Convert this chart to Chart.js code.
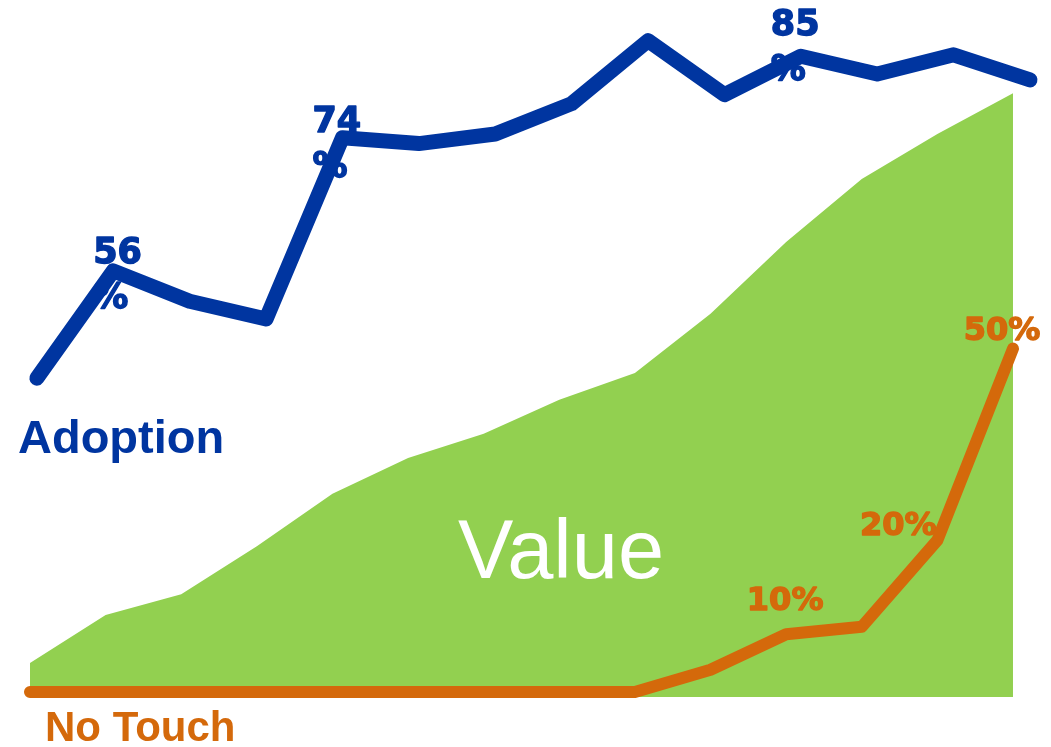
<!DOCTYPE html>
<html>
<head>
<meta charset="utf-8">
<script src="https://cdn.jsdelivr.net/npm/chart.js@4.4.1/dist/chart.umd.min.js"></script>
<style>
  html, body { margin: 0; padding: 0; background: #ffffff; }
  #wrap { position: relative; width: 1051px; height: 747px; }
</style>
</head>
<body>
<div id="wrap"><canvas id="c"></canvas></div>
<script>
// ---- data ----
const adoption = [42.4, 56.9, 52.8, 50.4, 74.9, 74.1, 75.4, 79.5, 88.0, 80.7, 85.9, 83.5, 86.1, 82.7];
const value    = [3.9, 10.4, 13.2, 19.7, 26.8, 31.6, 34.9, 39.5, 43.1, 51.1, 60.8, 69.3, 75.4, 80.9];
const noTouch  = [0, 0, 0, 0, 0, 0, 0, 0, 0, 3.0, 7.8, 8.8, 20.5, 46.4];

const adoptionLabelIdx  = [1, 4, 10];
const adoptionLabelText = ['56', '74', '85'];
const noTouchLabelIdx   = [10, 12, 13];
const noTouchLabelText  = ['10%', '20%', '50%'];

const seriesNames = ['Adoption', 'No Touch', 'Value'];

// ---- styling ----
const BLUE = '#0035A0';
const GREEN = '#92D050';
const ORANGE = '#D4690B';

const toXY = arr => arr.map((v, i) => ({ x: i, y: v }));

function heavyText(ctx, txt, x, y, color) {
  ctx.fillStyle = color;
  ctx.strokeStyle = color;
  ctx.lineWidth = 1.4;
  ctx.lineJoin = 'round';
  ctx.strokeText(txt, x, y);
  ctx.fillText(txt, x, y);
}

const annot = {
  id: 'annot',
  afterDatasetDraw(chart, args) {
    if (args.index !== 2) return;
    const ctx = chart.ctx;
    const xs = chart.scales.x, xb = chart.scales.x2, ys = chart.scales.y;
    ctx.save();
    ctx.textBaseline = 'alphabetic';

    // Adoption callouts (number above, % below)
    const blueOff = [[-20, -8], [-30, -6], [-30, -21]];
    ctx.font = 'bold 35px "DejaVu Sans"';
    ctx.textAlign = 'left';
    adoptionLabelIdx.forEach((idx, k) => {
      const px = xb.getPixelForValue(idx);
      const py = ys.getPixelForValue(adoption[idx]);
      const [dx, dy] = blueOff[k];
      heavyText(ctx, adoptionLabelText[k], px + dx, py + dy, BLUE);
      heavyText(ctx, '%', px + dx, py + dy + 45, BLUE);
    });

    // No Touch callouts
    const orOff = [[-1, -24], [-39, -5], [-11, -9]];
    ctx.font = 'bold 32px "DejaVu Sans"';
    ctx.textAlign = 'center';
    noTouchLabelIdx.forEach((idx, k) => {
      const px = xs.getPixelForValue(idx);
      const py = ys.getPixelForValue(noTouch[idx]);
      const [dx, dy] = orOff[k];
      heavyText(ctx, noTouchLabelText[k], px + dx, py + dy, ORANGE);
    });

    // Series names
    ctx.textAlign = 'left';
    ctx.fillStyle = BLUE;
    ctx.font = 'bold 47px "Liberation Sans"';
    ctx.fillText(seriesNames[0], 18, 453);
    ctx.fillStyle = ORANGE;
    ctx.font = 'bold 42px "Liberation Sans"';
    ctx.fillText(seriesNames[1], 45, 741);
    ctx.fillStyle = '#ffffff';
    ctx.font = '83px "Liberation Sans"';
    ctx.fillText(seriesNames[2], 458, 578);
    ctx.restore();
  }
};

new Chart(document.getElementById('c'), {
  type: 'line',
  data: {
    datasets: [
      {
        label: seriesNames[0],
        data: toXY(adoption),
        xAxisID: 'x2',
        borderColor: BLUE,
        borderWidth: 15,
        borderCapStyle: 'round',
        borderJoinStyle: 'round',
        pointRadius: 0,
        tension: 0,
        fill: false,
        clip: false,
        order: 1
      },
      {
        label: seriesNames[1],
        data: toXY(noTouch),
        xAxisID: 'x',
        borderColor: ORANGE,
        borderWidth: 12,
        borderCapStyle: 'round',
        borderJoinStyle: 'round',
        pointRadius: 0,
        tension: 0,
        fill: false,
        clip: false,
        order: 2
      },
      {
        label: seriesNames[2],
        data: toXY(value),
        xAxisID: 'x',
        borderWidth: 0,
        borderColor: 'rgba(0,0,0,0)',
        backgroundColor: GREEN,
        pointRadius: 0,
        tension: 0,
        fill: 'start',
        clip: false,
        order: 3
      }
    ]
  },
  options: {
    responsive: true,
    maintainAspectRatio: false,
    animation: false,
    events: [],
    layout: { padding: { left: 30, right: 21, top: 20, bottom: 50 } },
    plugins: { legend: { display: false }, tooltip: { enabled: false } },
    scales: {
      x:  { type: 'linear', display: false, min: 0, max: 13.225 },
      x2: { type: 'linear', display: false, min: -0.09, max: 13.0 },
      y:  { type: 'linear', display: false, min: -0.68, max: 90.8 }
    }
  },
  plugins: [annot]
});
</script>
</body>
</html>
